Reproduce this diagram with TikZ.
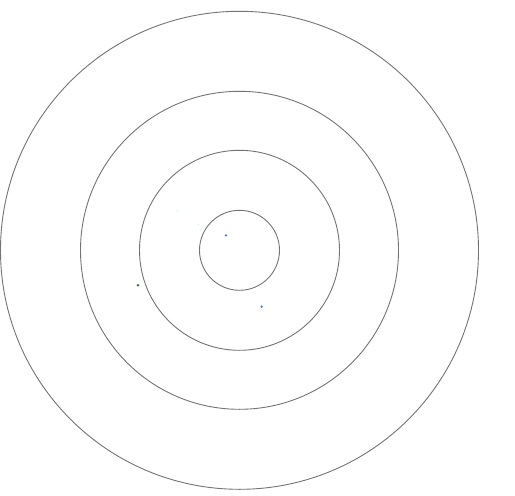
\documentclass[tikz,border=0pt]{standalone}
\usepackage{tikz}
\definecolor{azulpunto}{RGB}{70,120,210}
\definecolor{verdepunto}{RGB}{40,110,60}

\begin{document}
\begin{tikzpicture}[x=1pt, y=-1pt,
  anillo/.style={draw=black!55, line width=0.9pt},
  punto/.style={fill=#1, draw=none},
  tenue/.style={fill=cyan!40, draw=none, opacity=0.6}]
  \useasboundingbox (0,0) rectangle (515,496);
  % anillos concentricos
  \coordinate (centro) at (239.5,250.3);
  \foreach \r in {40,100,159,239}
    \draw[anillo] (centro) circle[radius=\r];
  % puntos
  \fill[punto=azulpunto] (226,235.3) circle[radius=1.2];
  \fill[punto=azulpunto] (261.7,306.7) circle[radius=1.3];
  \fill[punto=verdepunto] (138,285.3) circle[radius=1.4];
  \fill[tenue] (177.3,211) circle[radius=0.8];
  \fill[tenue] (198.3,224.3) circle[radius=0.7];
  \fill[tenue] (201,229) circle[radius=0.9];
\end{tikzpicture}
\end{document}
